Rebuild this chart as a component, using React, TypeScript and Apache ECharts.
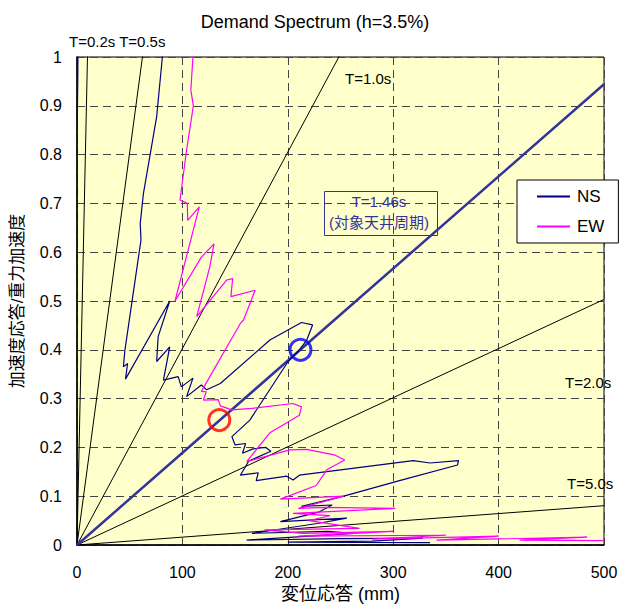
import { useEffect, useRef } from "react";
import * as echarts from "echarts";

// Periods of the reference lines (s)
const periods = [0.2, 0.5, 1.0, 2.0, 5.0];
const targetPeriod = 1.46;
const xTickMax = 500;
const yTickMax = 1;

// NS demand spectrum (displacement mm, acceleration / g)
const nsData: number[][] = [
  [0.3, 0.87], [0.8, 0.97], [1.5, 1.25], [30, 1.6], [85, 1.09], [81, 1.0], [75.6, 0.878],
  [63, 0.72], [60, 0.659], [60.7, 0.625], [45.5, 0.40], [44, 0.365], [48, 0.372], [46, 0.34],
  [88, 0.50], [77, 0.427], [75.6, 0.376], [88, 0.406], [82, 0.338], [96, 0.345], [99, 0.324],
  [110, 0.342], [104, 0.304], [118, 0.328], [123, 0.318], [136, 0.331], [183, 0.42],
  [213, 0.456], [223.5, 0.451], [218, 0.42], [211, 0.40], [200, 0.375], [164, 0.256],
  [147, 0.222], [150, 0.205], [160, 0.208], [157, 0.188], [167, 0.197], [179, 0.20],
  [184, 0.192], [163, 0.172], [155, 0.143], [172, 0.148], [170, 0.132], [199, 0.141],
  [205, 0.133], [211, 0.143], [319, 0.173], [335, 0.168], [362, 0.173], [361, 0.164],
  [306, 0.132], [253, 0.10], [213, 0.079], [242, 0.082], [230, 0.068], [193, 0.048],
  [256, 0.055], [228, 0.044], [166, 0.024], [238, 0.028], [262, 0.024], [161, 0.01],
  [250, 0.013], [328, 0.014], [280, 0.008], [200, 0.006], [335, 0.005],
];

// EW demand spectrum
const ewData: number[][] = [
  [125, 1.5], [110, 1.0], [108, 0.932], [110.4, 0.90], [104, 0.81], [97.7, 0.707],
  [104.7, 0.70], [105, 0.665], [116, 0.693], [93, 0.50], [118, 0.59], [130, 0.617],
  [126, 0.570], [113.6, 0.468], [142, 0.543], [147.7, 0.546], [146, 0.509], [169, 0.522],
  [158, 0.461], [155, 0.454], [121, 0.326], [118, 0.315], [122.6, 0.314], [120, 0.297],
  [134, 0.298], [136, 0.285], [147, 0.277], [166, 0.28], [205, 0.29], [213, 0.283],
  [211, 0.266], [183, 0.23], [161, 0.171], [202, 0.195], [218, 0.196], [245, 0.184],
  [254, 0.174], [237, 0.154], [227, 0.122], [193, 0.094], [253, 0.10], [210, 0.075],
  [235, 0.077], [302, 0.075], [205, 0.065], [240, 0.06], [220, 0.05], [268, 0.034],
  [178, 0.031], [214, 0.024], [300, 0.028], [210, 0.018], [350, 0.02], [280, 0.012],
  [400, 0.018], [341, 0.01], [484, 0.016], [420, 0.01], [500, 0.009],
];

const performancePoints = {
  ns: [[212, 0.40]],
  ew: [[135, 0.256]],
};

const FONT = "'Liberation Sans', Arial, 'Noto Sans CJK JP', sans-serif";

// line through origin for period T: Sa/g = (2π/T)^2 * Sd / g
function periodLine(T: number): number[][] {
  const k = Math.pow((2 * Math.PI) / T, 2) / 9806.65;
  return [[0, 0], [xTickMax, k * xTickMax]];
}

export default function App() {
  const ref = useRef<HTMLDivElement>(null);
  useEffect(() => {
    document.body.style.margin = "0";
    const chart = echarts.init(ref.current!, undefined, { renderer: "svg" });
    const periodSeries = periods.map((T) => ({
      type: "line",
      name: "T" + T,
      data: periodLine(T),
      symbol: "none",
      silent: true,
      clip: true,
      lineStyle: { color: "#000", width: 1 },
      z: 2,
    }));
    const labelStyle = { fontFamily: FONT, fontSize: 15, fill: "#000" };
    chart.setOption({
      animation: false,
      backgroundColor: "#fff",
      title: {
        text: "Demand Spectrum (h=3.5%)",
        left: "center",
        top: 8,
        textStyle: { fontFamily: FONT, fontSize: 18, fontWeight: "normal", color: "#000" },
      },
      grid: {
        left: 77,
        top: 57,
        right: 26,
        bottom: 59,
        outerBoundsMode: "none",
        containLabel: false,
        show: true,
        backgroundColor: "#FFFFCC",
        borderColor: "#000",
        borderWidth: 1,
      },
      legend: {
        data: ["NS", "EW"],
        orient: "vertical",
        left: 517,
        top: 180,
        icon: "rect",
        itemWidth: 33,
        itemHeight: 2,
        itemGap: 13,
        padding: [8, 14, 8, 20],
        backgroundColor: "#fff",
        borderColor: "#000",
        borderWidth: 1,
        borderRadius: 0,
        textStyle: { fontFamily: FONT, fontSize: 17, color: "#000", padding: [0, 0, 0, 2] },
      },
      xAxis: {
        type: "value",
        min: 0,
        max: xTickMax,
        interval: 100,
        name: "変位応答 (mm)",
        nameLocation: "middle",
        nameGap: 36,
        nameTextStyle: { fontFamily: FONT, fontSize: 18, color: "#000" },
        axisLine: { show: true, lineStyle: { color: "#000", width: 1.5 } },
        axisTick: { show: false },
        axisLabel: { fontFamily: FONT, fontSize: 16, color: "#000", margin: 19 },
        splitLine: { show: true, lineStyle: { color: "#444", width: 1, type: [8, 5] } },
      },
      yAxis: {
        type: "value",
        min: 0,
        max: yTickMax,
        interval: 0.1,
        name: "加速度応答/重力加速度",
        nameLocation: "middle",
        nameGap: 51,
        nameTextStyle: { fontFamily: FONT, fontSize: 17, color: "#000" },
        axisLine: { show: true, lineStyle: { color: "#000", width: 1.5 } },
        axisTick: { show: false },
        axisLabel: { fontFamily: FONT, fontSize: 16, color: "#000", margin: 15 },
        splitLine: { show: true, lineStyle: { color: "#444", width: 1, type: [8, 5] } },
      },
      series: [
        ...periodSeries,
        {
          type: "line",
          name: "T" + targetPeriod,
          data: periodLine(targetPeriod),
          symbol: "none",
          silent: true,
          clip: true,
          lineStyle: { color: "#333399", width: 2.5 },
          z: 3,
        },
        {
          type: "line",
          name: "NS",
          data: nsData,
          symbol: "none",
          clip: true,
          color: "#000080",
          lineStyle: { color: "#000080", width: 1.2 },
          z: 4,
        },
        {
          type: "line",
          name: "EW",
          data: ewData,
          symbol: "none",
          clip: true,
          color: "#FF00FF",
          lineStyle: { color: "#FF00FF", width: 1.2 },
          z: 4,
        },
        {
          type: "scatter",
          name: "pNS",
          data: performancePoints.ns,
          symbol: "circle",
          symbolSize: 21,
          itemStyle: { color: "rgba(0,0,0,0)", borderColor: "#0000FF", borderWidth: 3 },
          z: 6,
        },
        {
          type: "scatter",
          name: "pEW",
          data: performancePoints.ew,
          symbol: "circle",
          symbolSize: 21,
          itemStyle: { color: "rgba(0,0,0,0)", borderColor: "#FF0000", borderWidth: 3 },
          z: 6,
        },
      ],
      graphic: [
        { type: "text", left: 69, top: 34, style: { ...labelStyle, text: "T=0.2s T=0.5s" } },
        { type: "text", left: 345, top: 71, style: { ...labelStyle, text: "T=1.0s" } },
        { type: "text", left: 565, top: 375, style: { ...labelStyle, text: "T=2.0s" } },
        { type: "text", left: 567, top: 476, style: { ...labelStyle, text: "T=5.0s" } },
        {
          type: "rect",
          left: 322,
          top: 189,
          shape: { width: 113, height: 44 },
          style: { fill: "none", stroke: "#333399", lineWidth: 1 },
          z: 10,
        },
        {
          type: "text",
          x: 379,
          y: 201,
          style: { ...labelStyle, fill: "#333399", text: "T=1.46s", align: "center", verticalAlign: "middle" },
          z: 10,
        },
        {
          type: "text",
          x: 379,
          y: 222,
          style: { ...labelStyle, fill: "#333399", text: "(対象天井周期)", align: "center", verticalAlign: "middle" },
          z: 10,
        },
      ],
    });
    return () => chart.dispose();
  }, []);
  return <div ref={ref} style={{ width: 630, height: 604, position: "absolute", left: 0, top: 0 }} />;
}
